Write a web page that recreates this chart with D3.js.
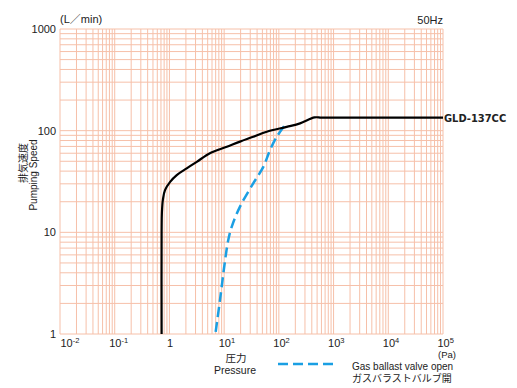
<!DOCTYPE html>
<html>
<head>
<meta charset="utf-8">
<script src="https://cdn.jsdelivr.net/npm/d3@7"></script>
<style>
  body { margin: 0; background: #fff; }
  text { font-family: "Liberation Sans", Arial, "Noto Sans CJK JP", sans-serif; fill: #222; }
</style>
</head>
<body>
<div id="chart"></div>
<script>
/* pumping speed curve, GLD-137CC (Pa, L/min) */
const pressure = [0.72, 0.72, 0.73, 0.76, 0.83, 1.03, 1.36, 2.07, 3.16, 5.5, 11.2, 19.5, 34, 60, 139, 244, 450, 600, 2000, 1e5];
const speed = [1, 10, 16, 21, 26, 31.4, 36.6, 42.6, 49.4, 60, 69.5, 78, 87, 97.5, 109, 118, 135, 134.5, 134.5, 134.5];

/* gas ballast valve open */
const gbPressure = [7.0, 8.4, 10.4, 11.9, 13.8, 19.5, 34, 52, 69, 91.5, 130];
const gbSpeed = [1.05, 2.16, 5.3, 8.4, 11.4, 17.9, 30.3, 44, 64.5, 87, 113.5];

const xExponents = [-2, -1, 0, 1, 2, 3, 4, 5];
const yTickValues = [1, 10, 100, 1000];

const seriesName = "GLD-137CC";
const legendLines = ["Gas ballast valve open", "ガスバラストバルブ開"];

let width = 517;
let height = 388;
let marginLeft = 60;
let marginTop = 29;
let plotWidth = 383;
let plotHeight = 305;

let gridColor = "#f6c0a9";
let blue = "#1a9fe3";

let svg = d3.select("#chart").append("svg")
  .attr("width", width)
  .attr("height", height);

let g = svg.append("g")
  .attr("transform", `translate(${marginLeft}, ${marginTop})`);

let x = d3.scaleLog().domain([1e-2, 1e5]).range([0, plotWidth]);
let y = d3.scaleLog().domain([1, 1000]).range([plotHeight, 0]);

/* grid */
let grid = g.append("g").attr("class", "grid");

grid.selectAll(".vline")
  .data(x.ticks())
  .enter().append("line")
  .attr("class", "vline")
  .attr("x1", d => x(d)).attr("x2", d => x(d))
  .attr("y1", 0).attr("y2", plotHeight)
  .attr("stroke", gridColor)
  .attr("stroke-width", 1);

grid.selectAll(".hline")
  .data(y.ticks())
  .enter().append("line")
  .attr("class", "hline")
  .attr("x1", 0).attr("x2", plotWidth)
  .attr("y1", d => y(d)).attr("y2", d => y(d))
  .attr("stroke", gridColor)
  .attr("stroke-width", 1);

/* y axis labels */
let yAxis = d3.axisLeft(y)
  .tickValues(yTickValues)
  .tickFormat(d3.format("d"))
  .tickSize(0)
  .tickPadding(4);

g.append("g")
  .attr("class", "y axis")
  .call(yAxis)
  .call(a => a.select(".domain").remove())
  .selectAll("text")
  .style("font-size", "11px")
  .attr("fill", "#222");

/* x axis labels with superscripts */
let xAxis = d3.axisBottom(x)
  .tickValues(xExponents.map(e => Math.pow(10, e)))
  .tickSize(0)
  .tickPadding(5);

let xg = g.append("g")
  .attr("class", "x axis")
  .attr("transform", `translate(0, ${plotHeight})`)
  .call(xAxis)
  .call(a => a.select(".domain").remove());

xg.selectAll("text")
  .style("font-size", "11px")
  .attr("fill", "#222")
  .each(function (d, i) {
    let e = xExponents[i];
    let t = d3.select(this).text("").attr("text-anchor", "start");
    if (e === 0) {
      t.attr("x", -3).text("1");
      return;
    }
    t.attr("x", i === 0 ? 0 : -6);
    t.append("tspan").text("10");
    t.append("tspan")
      .attr("dy", "-0.45em")
      .style("font-size", "7.5px")
      .text(e);
  });

/* lines */
let line = d3.line()
  .x(d => x(d[0]))
  .y(d => y(d[1]))
  .curve(d3.curveCatmullRom.alpha(0.5));

g.append("path")
  .datum(gbPressure.map((p, i) => [p, gbSpeed[i]]))
  .attr("d", line)
  .attr("fill", "none")
  .attr("stroke", blue)
  .attr("stroke-width", 2.5)
  .attr("stroke-dasharray", "10,5");

g.append("path")
  .datum(pressure.map((p, i) => [p, speed[i]]))
  .attr("d", line)
  .attr("fill", "none")
  .attr("stroke", "#000")
  .attr("stroke-width", 2.2);

/* series name at the end of the line */
g.append("text")
  .attr("x", plotWidth + 1)
  .attr("y", y(speed[speed.length - 1]))
  .attr("dy", "0.36em")
  .style("font-family", "'DejaVu Sans Condensed', 'DejaVu Sans', sans-serif")
  .style("font-weight", "bold")
  .style("font-size", "11px")
  .attr("fill", "#111")
  .text(seriesName);

/* units and titles */
svg.append("text")
  .attr("x", 60).attr("y", 23)
  .style("font-size", "11px")
  .text("(L／min)");

svg.append("text")
  .attr("x", 443).attr("y", 24)
  .attr("text-anchor", "end")
  .style("font-size", "11px")
  .text("50Hz");

svg.append("text")
  .attr("x", 447).attr("y", 358)
  .attr("text-anchor", "middle")
  .style("font-size", "9.5px")
  .text("(Pa)");

svg.append("text")
  .attr("x", 236).attr("y", 362)
  .attr("text-anchor", "middle")
  .style("font-size", "10.5px")
  .text("圧力");

svg.append("text")
  .attr("x", 235).attr("y", 374)
  .attr("text-anchor", "middle")
  .style("font-size", "10.5px")
  .text("Pressure");

svg.append("text")
  .attr("transform", "translate(27, 163) rotate(-90)")
  .attr("text-anchor", "middle")
  .style("font-size", "10px")
  .text("排気速度");

svg.append("text")
  .attr("transform", "translate(37, 175) rotate(-90)")
  .attr("text-anchor", "middle")
  .style("font-size", "10px")
  .text("Pumping Speed");

/* legend */
svg.append("line")
  .attr("x1", 278).attr("x2", 338)
  .attr("y1", 364).attr("y2", 364)
  .attr("stroke", blue)
  .attr("stroke-width", 2.5)
  .attr("stroke-dasharray", "10,5");

svg.selectAll(".legend-text")
  .data(legendLines)
  .enter().append("text")
  .attr("class", "legend-text")
  .attr("x", 352)
  .attr("y", (d, i) => 369.5 + i * 12.5)
  .style("font-size", "10px")
  .text(d => d);
</script>
</body>
</html>
